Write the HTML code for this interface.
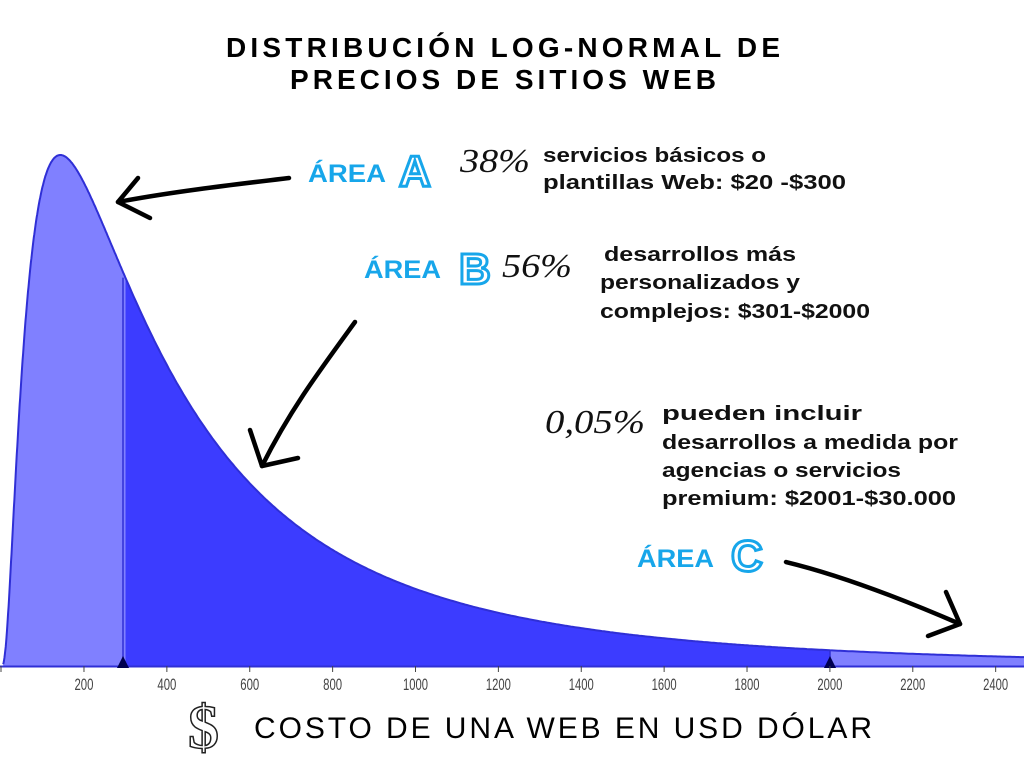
<!DOCTYPE html>
<html><head><meta charset="utf-8"><style>
html,body{margin:0;padding:0;background:#fff;width:1024px;height:768px;overflow:hidden}
svg{display:block}
.t{font-family:"Liberation Sans",sans-serif;font-weight:bold}
.ann{font-family:"Liberation Sans",sans-serif;font-weight:bold;font-size:20px;fill:#111}
.pct{font-family:"Liberation Serif",serif;font-style:italic;font-size:34px;fill:#111}
.area{font-family:"Liberation Sans",sans-serif;font-weight:bold;font-size:25px;fill:#17a6ea}
.big{font-family:"Liberation Sans",sans-serif;font-weight:bold;font-size:44px;fill:#fff;stroke:#17a6ea;stroke-width:3px}
.tick{font-family:"Liberation Sans",sans-serif;font-size:17px;fill:#444}
</style></head><body>
<svg id="s" width="1024" height="768" viewBox="0 0 1024 768">
<path id="pA" fill="#8080ff" stroke="none"/>
<path id="pB" fill="#3c3cff" stroke="none"/>
<path id="pC" fill="#8080ff" stroke="none"/>
<path id="curve" fill="none" stroke="#2f2fd6" stroke-width="2"/>
<line x1="123" y1="268" x2="123" y2="666" stroke="#2f2fd6" stroke-width="1.5" id="v1"/>
<line x1="830" y1="649" x2="830" y2="666" stroke="#2f2fd6" stroke-width="1.5" id="v2"/>
<line x1="0" y1="666.5" x2="1024" y2="666.5" stroke="#2f2fd6" stroke-width="2"/>
<polygon points="117,668 129,668 123,656" fill="#000050"/>
<polygon points="824,668 836,668 830,656" fill="#000050"/>
<g id="ticks"></g>
<text x="226" y="57" class="t" font-size="28" textLength="554" lengthAdjust="spacing">DISTRIBUCIÓN LOG-NORMAL DE</text>
<text x="290" y="89" class="t" font-size="28" textLength="426" lengthAdjust="spacing">PRECIOS DE SITIOS WEB</text>
<text x="308" y="182" class="area" textLength="78" lengthAdjust="spacingAndGlyphs">ÁREA</text>
<text x="399" y="186" class="big">A</text>
<text x="460" y="172" class="pct" textLength="70" lengthAdjust="spacingAndGlyphs">38%</text>
<text x="543" y="162" class="ann" textLength="223" lengthAdjust="spacingAndGlyphs">servicios básicos o</text>
<text x="543" y="189" class="ann" textLength="303" lengthAdjust="spacingAndGlyphs">plantillas Web: $20 -$300</text>
<text x="364" y="278" class="area" textLength="77" lengthAdjust="spacingAndGlyphs">ÁREA</text>
<text x="459" y="284" class="big">B</text>
<text x="502" y="277" class="pct" textLength="70" lengthAdjust="spacingAndGlyphs">56%</text>
<text x="604" y="261" class="ann" textLength="192" lengthAdjust="spacingAndGlyphs">desarrollos más</text>
<text x="600" y="289" class="ann" textLength="200" lengthAdjust="spacingAndGlyphs">personalizados y</text>
<text x="600" y="318" class="ann" textLength="270" lengthAdjust="spacingAndGlyphs">complejos: $301-$2000</text>
<text x="545" y="433" class="pct" textLength="100" lengthAdjust="spacingAndGlyphs">0,05%</text>
<text x="662" y="420" class="ann" textLength="200" lengthAdjust="spacingAndGlyphs">pueden incluir</text>
<text x="662" y="449" class="ann" textLength="296" lengthAdjust="spacingAndGlyphs">desarrollos a medida por</text>
<text x="662" y="477" class="ann" textLength="239" lengthAdjust="spacingAndGlyphs">agencias o servicios</text>
<text x="662" y="505" class="ann" textLength="294" lengthAdjust="spacingAndGlyphs">premium: $2001-$30.000</text>
<text x="637" y="567" class="area" textLength="77" lengthAdjust="spacingAndGlyphs">ÁREA</text>
<text x="731" y="571" class="big">C</text>
<g stroke="#000" stroke-width="4.5" fill="none" stroke-linecap="round" stroke-linejoin="round">
<path d="M289,178 C230,185 170,192 118,202"/>
<path d="M138,178 L118,202 L150,218"/>
<path d="M355,322 C320,370 290,410 262,466"/>
<path d="M250,430 L262,466 L298,458"/>
<path d="M786,562 C840,575 900,598 960,624"/>
<path d="M946,592 L960,624 L928,636"/>
</g>
<text x="188" y="748" font-family="Liberation Serif,serif" font-weight="bold" font-size="62" fill="#fff" stroke="#222" stroke-width="1.5">$</text>
<text x="254" y="738" font-family="Liberation Sans,sans-serif" font-size="30" fill="#000" textLength="618" lengthAdjust="spacing">COSTO DE UNA WEB EN USD DÓLAR</text>
</svg>
<script>
var base=666,H=511,m=143,s=1.0;
function X(v){return 1.1+v*0.4144}
function Y(v){var u=Math.log(v/m);return base-H*Math.exp(-u*u/(2*s*s));}
function seg(a,b){var p=[];for(var v=a;v<=b;v+=(v<300?1:5)){p.push(X(v).toFixed(1)+","+Y(v).toFixed(1));}p.push(X(b).toFixed(1)+","+Y(b).toFixed(1));return p;}
function area(a,b){var p=seg(a,b);return "M"+X(a).toFixed(1)+","+base+" L"+p.join(" L")+" L"+X(b).toFixed(1)+","+base+" Z";}
document.getElementById("pA").setAttribute("d",area(5,300));
document.getElementById("pB").setAttribute("d",area(300,2000));
document.getElementById("pC").setAttribute("d",area(2000,2480));
document.getElementById("curve").setAttribute("d","M"+seg(5,2480).join(" L"));
document.getElementById("v1").setAttribute("y1",Y(300));
document.getElementById("v2").setAttribute("y1",Y(2000));
var g=document.getElementById("ticks"),h="";
for(var v=200;v<=2400;v+=200){var x=X(v);var w=v<1000?19:25;h+='<line x1="'+x+'" y1="666" x2="'+x+'" y2="672" stroke="#444" stroke-width="1"/><text x="'+(x-w/2)+'" y="690" class="tick" textLength="'+w+'" lengthAdjust="spacingAndGlyphs">'+v+'</text>';}
h+='<line x1="1" y1="666" x2="1" y2="672" stroke="#444"/>';
g.innerHTML=h;
</script>
</body></html>
